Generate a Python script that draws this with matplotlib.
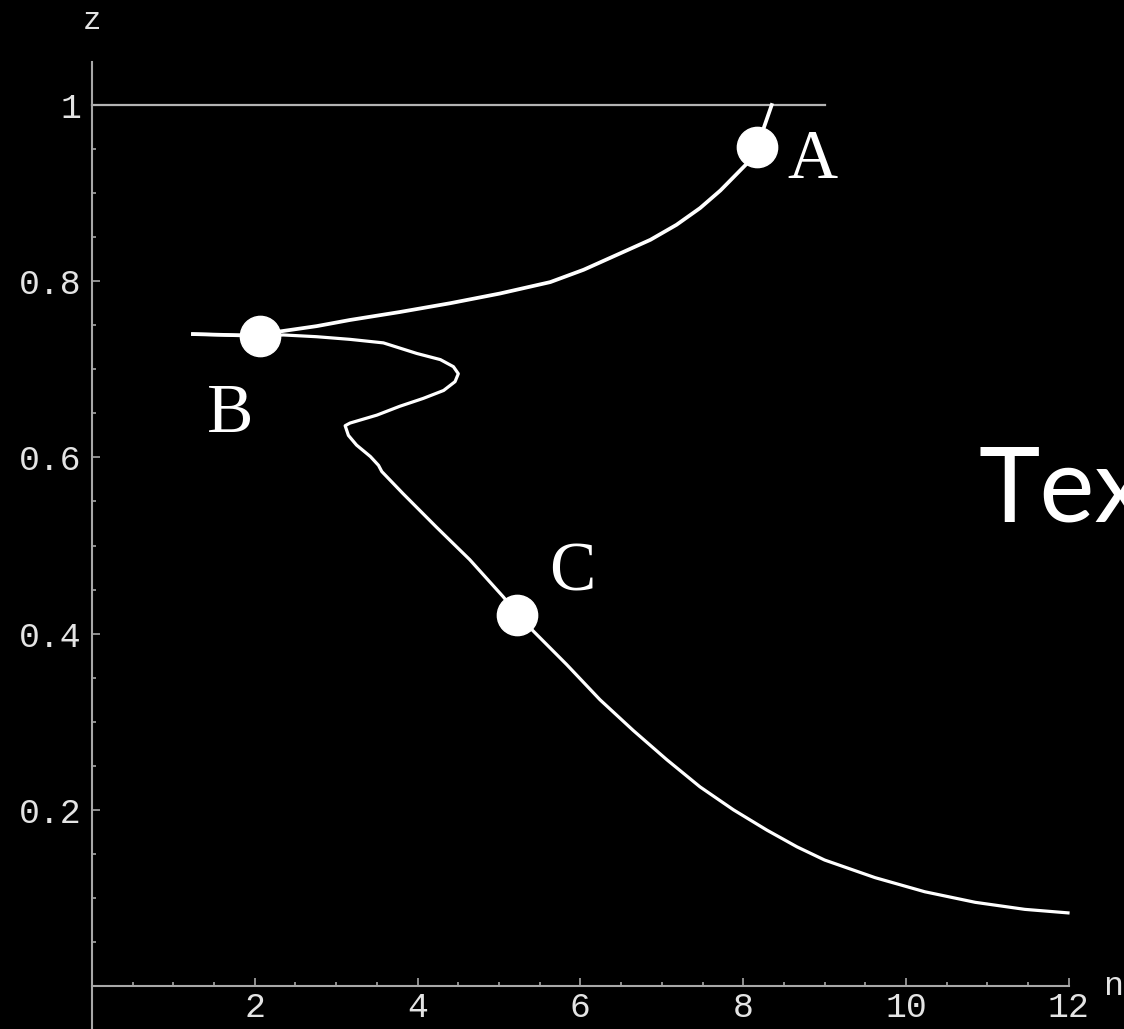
import matplotlib.pyplot as plt
import matplotlib as mpl
from matplotlib.ticker import FixedLocator

mpl.rcParams['font.family'] = 'sans-serif'

# lower branch: from the tail at large n up through the loop to the left tip
n_low = [11.99, 11.46, 10.85, 10.23, 9.62, 9.00, 8.66, 8.29, 7.88, 7.47, 7.06,
         6.65, 6.24, 5.83, 5.42, 5.22, 5.05, 4.64, 4.23, 3.82, 3.56, 3.52, 3.42,
         3.25, 3.15, 3.11, 3.17, 3.50, 3.78, 4.07, 4.32, 4.46, 4.50, 4.44, 4.28,
         3.99, 3.58, 3.17, 2.76, 2.35, 2.06, 1.24]
z_low = [0.083, 0.087, 0.095, 0.107, 0.123, 0.143, 0.158, 0.177, 0.200, 0.226, 0.257,
         0.290, 0.325, 0.365, 0.403, 0.423, 0.442, 0.484, 0.521, 0.559, 0.584, 0.591, 0.601,
         0.614, 0.625, 0.636, 0.639, 0.648, 0.658, 0.667, 0.676, 0.686, 0.695, 0.703, 0.711,
         0.718, 0.730, 0.734, 0.737, 0.739, 0.738, 0.740]

# upper branch: from the left tip through B and A up to z = 1
n_up = [1.24, 2.06, 2.31, 2.76, 3.17, 3.78, 4.40, 5.01, 5.63, 6.04, 6.45, 6.86,
        7.18, 7.47, 7.72, 7.88, 8.04, 8.17, 8.35]
z_up = [0.740, 0.738, 0.743, 0.749, 0.756, 0.765, 0.775, 0.786, 0.799, 0.813, 0.830, 0.847,
        0.864, 0.883, 0.903, 0.918, 0.933, 0.952, 1.0]

# marked points
pt_names = ['A', 'B', 'C']
pt_n = [8.17, 2.06, 5.22]
pt_z = [0.952, 0.738, 0.421]

x_ticks = [2, 4, 6, 8, 10, 12]
y_ticks = [0.2, 0.4, 0.6, 0.8, 1.0]
y_tick_labels = ['0.2', '0.4', '0.6', '0.8', '1']

axis_gray = '#a8a8a8'
label_gray = '#e4e4e4'
mono = 'Liberation Mono'
serif = 'Liberation Serif'

fig = plt.figure(figsize=(11.24, 10.29), dpi=100, facecolor='black')
ax = fig.add_axes([0, 0, 1, 1], facecolor='black')
ax.set_xlim(-1.130, 12.678)
ax.set_ylim(-0.0488, 1.1192)

# axes through the origin
for side in ['top', 'right']:
    ax.spines[side].set_visible(False)
ax.spines['left'].set_position(('data', 0))
ax.spines['bottom'].set_position(('data', 0))
ax.spines['left'].set_bounds(-0.0488, 1.0488)
ax.spines['bottom'].set_bounds(0, 12)
for side in ['left', 'bottom']:
    ax.spines[side].set_color(axis_gray)
    ax.spines[side].set_linewidth(1.5)

ax.xaxis.set_major_locator(FixedLocator(x_ticks))
ax.xaxis.set_minor_locator(FixedLocator([k * 0.5 for k in range(1, 24) if k % 4 != 0]))
ax.yaxis.set_major_locator(FixedLocator(y_ticks))
ax.yaxis.set_minor_locator(FixedLocator([k * 0.05 for k in range(1, 20) if k % 4 != 0]))
ax.set_yticklabels(y_tick_labels)
ax.set_xticklabels([str(t) for t in x_ticks])

ax.tick_params(which='both', direction='in', color=axis_gray, width=1.2)
ax.tick_params(which='major', length=5.5, labelsize=25, labelcolor=label_gray)
ax.tick_params(axis='x', which='major', pad=3.5)
ax.tick_params(axis='y', which='major', pad=7.5)
ax.tick_params(which='minor', length=3)
for lbl in ax.get_xticklabels() + ax.get_yticklabels():
    lbl.set_family(mono)

# axis names
ax.text(0, 1.0956, 'z', family=mono, fontsize=22, color=label_gray, ha='center', va='center')
ax.text(12.54, 0.0, 'n', family=mono, fontsize=24, color=label_gray, ha='center', va='center')

# reference line z = 1
ax.plot([0, 9], [1, 1], color='#b4b4b4', lw=1.6, zorder=2)

ax.plot(n_low, z_low, color='white', lw=2.3, solid_joinstyle='round', zorder=3)
ax.plot(n_up, z_up, color='white', lw=2.7, solid_joinstyle='round', zorder=3)
ax.plot(pt_n, pt_z, 'o', color='white', markersize=29, zorder=4)

label_offsets = [(39.6, -22.3), (-21.6, -69.1), (39.6, 18.0)]
for name, n, z, off in zip(pt_names, pt_n, pt_z, label_offsets):
    ax.annotate(name, (n, z), xytext=off, textcoords='offset points',
                family=serif, fontsize=50, color='white', ha='center', va='baseline')

fig.text(978 / 1124, 1 - 522 / 1029, 'Text', family='Lato', fontsize=75,
         color='white', ha='left', va='baseline')

fig.savefig('out.png', dpi=100, facecolor='black')
